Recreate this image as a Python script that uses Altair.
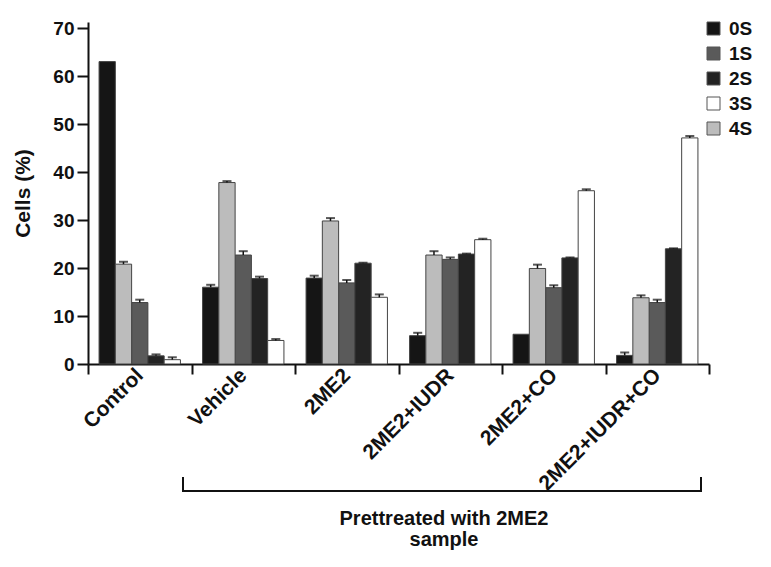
import altair as alt
import pandas as pd

groups = ["Control", "Vehicle", "2ME2", "2ME2+IUDR", "2ME2+CO", "2ME2+IUDR+CO"]
phases = ["0S", "1S", "2S", "3S", "4S"]
bar_order = ["0S", "4S", "1S", "2S", "3S"]
colors = ["#151515", "#5a5a5a", "#232323", "#ffffff", "#bcbcbc"]

# mean values (%) per phase, in group order
s0 = [63.0, 16.0, 17.9, 5.9, 6.2, 1.8]
s1 = [12.8, 22.7, 16.9, 21.8, 15.9, 12.8]
s2 = [1.7, 17.8, 21.0, 22.9, 22.1, 24.0]
s3 = [0.9, 4.9, 13.9, 25.9, 36.1, 47.1]
s4 = [20.8, 37.8, 29.8, 22.7, 19.9, 13.8]
# upper error (%)
e0 = [0.0, 0.5, 0.5, 0.6, 0.0, 0.6]
e1 = [0.6, 0.8, 0.6, 0.4, 0.5, 0.6]
e2 = [0.3, 0.4, 0.1, 0.1, 0.1, 0.1]
e3 = [0.5, 0.3, 0.6, 0.2, 0.3, 0.4]
e4 = [0.5, 0.3, 0.6, 0.8, 0.8, 0.5]

y_ticks = [0, 10, 20, 30, 40, 50, 60, 70]
bracket_label = "Prettreated with 2ME2\nsample"

vals = {"0S": s0, "1S": s1, "2S": s2, "3S": s3, "4S": s4}
errs = {"0S": e0, "1S": e1, "2S": e2, "3S": e3, "4S": e4}
rows = []
for p in phases:
    for i, g in enumerate(groups):
        rows.append({"group": g, "phase": p, "value": vals[p][i],
                     "err": errs[p][i], "upper": vals[p][i] + errs[p][i]})
df = pd.DataFrame(rows)

FONT = "Liberation Sans"
INK = "#111111"

x = alt.X("group:N", sort=groups,
          scale=alt.Scale(paddingInner=0, paddingOuter=0),
          axis=alt.Axis(title=None, labelAngle=-45, labelAlign="right",
                        labelBaseline="middle", labelFontSize=21,
                        labelFont=FONT, labelFontWeight="bold", labelColor=INK,
                        tickBand="extent", tickSize=10, tickWidth=2,
                        tickColor=INK, domainWidth=2, domainColor=INK,
                        labelPadding=-2, labelOverlap=False))
xo = alt.XOffset("phase:N", sort=bar_order,
                 scale=alt.Scale(domain=bar_order, paddingInner=0, paddingOuter=0.68))
yaxis = alt.Axis(values=y_ticks, title="Cells (%)", grid=False,
                 labelFontSize=19, labelFont=FONT, labelFontWeight="bold",
                 labelColor=INK, tickSize=11, tickWidth=2, tickColor=INK,
                 domainWidth=2, domainColor=INK, labelPadding=3,
                 titleFontSize=21, titleFont=FONT, titleFontWeight="bold",
                 titleColor=INK, titlePadding=19)
yscale = alt.Scale(domain=[0, 71.25], nice=False)

base = alt.Chart(df)

bars = base.mark_bar(stroke="#444444", strokeWidth=1).encode(
    x=x, xOffset=xo,
    y=alt.Y("value:Q", scale=yscale, axis=yaxis),
    fill=alt.Fill("phase:N", scale=alt.Scale(domain=phases, range=colors),
                  legend=alt.Legend(title=None, orient="none", legendX=616,
                                    legendY=-3, symbolType="square",
                                    symbolSize=169, labelFontSize=19,
                                    labelFont=FONT, labelFontWeight="bold",
                                    labelColor=INK, rowPadding=5,
                                    symbolStrokeColor="#555555",
                                    symbolStrokeWidth=1, labelOffset=6)),
)

err_base = base.transform_filter("datum.err > 0")
stems = err_base.mark_rule(color=INK, strokeWidth=1.5).encode(
    x=x, xOffset=xo,
    y=alt.Y("value:Q", scale=yscale, axis=yaxis),
    y2="upper:Q",
)
caps = err_base.mark_tick(color=INK, thickness=2, size=9).encode(
    x=x, xOffset=xo,
    y=alt.Y("upper:Q", scale=yscale, axis=yaxis),
)

one = pd.DataFrame({"k": [0]})
ann = alt.Chart(one)
bracket_h = ann.mark_rule(color=INK, strokeWidth=2).encode(
    x=alt.value(95), x2=alt.value(613), y=alt.value(469))
bracket_l = ann.mark_rule(color=INK, strokeWidth=2).encode(
    x=alt.value(95), y=alt.value(455), y2=alt.value(470))
bracket_r = ann.mark_rule(color=INK, strokeWidth=2).encode(
    x=alt.value(613), y=alt.value(455), y2=alt.value(470))
label = ann.mark_text(font=FONT, fontSize=20, fontWeight="bold", color=INK,
                      align="center", baseline="alphabetic", lineBreak="\n",
                      lineHeight=21).encode(
    x=alt.value(356), y=alt.value(503), text=alt.value(bracket_label))

chart = alt.layer(bars, stems, caps, bracket_h, bracket_l, bracket_r, label).properties(
    width=621, height=342,
    autosize=alt.AutoSizeParams(type="none"),
    padding={"left": 80, "top": 14, "right": 54, "bottom": 190},
).configure_view(stroke=None)

chart.save("out.html", embed_options={"renderer": "svg", "actions": False})
